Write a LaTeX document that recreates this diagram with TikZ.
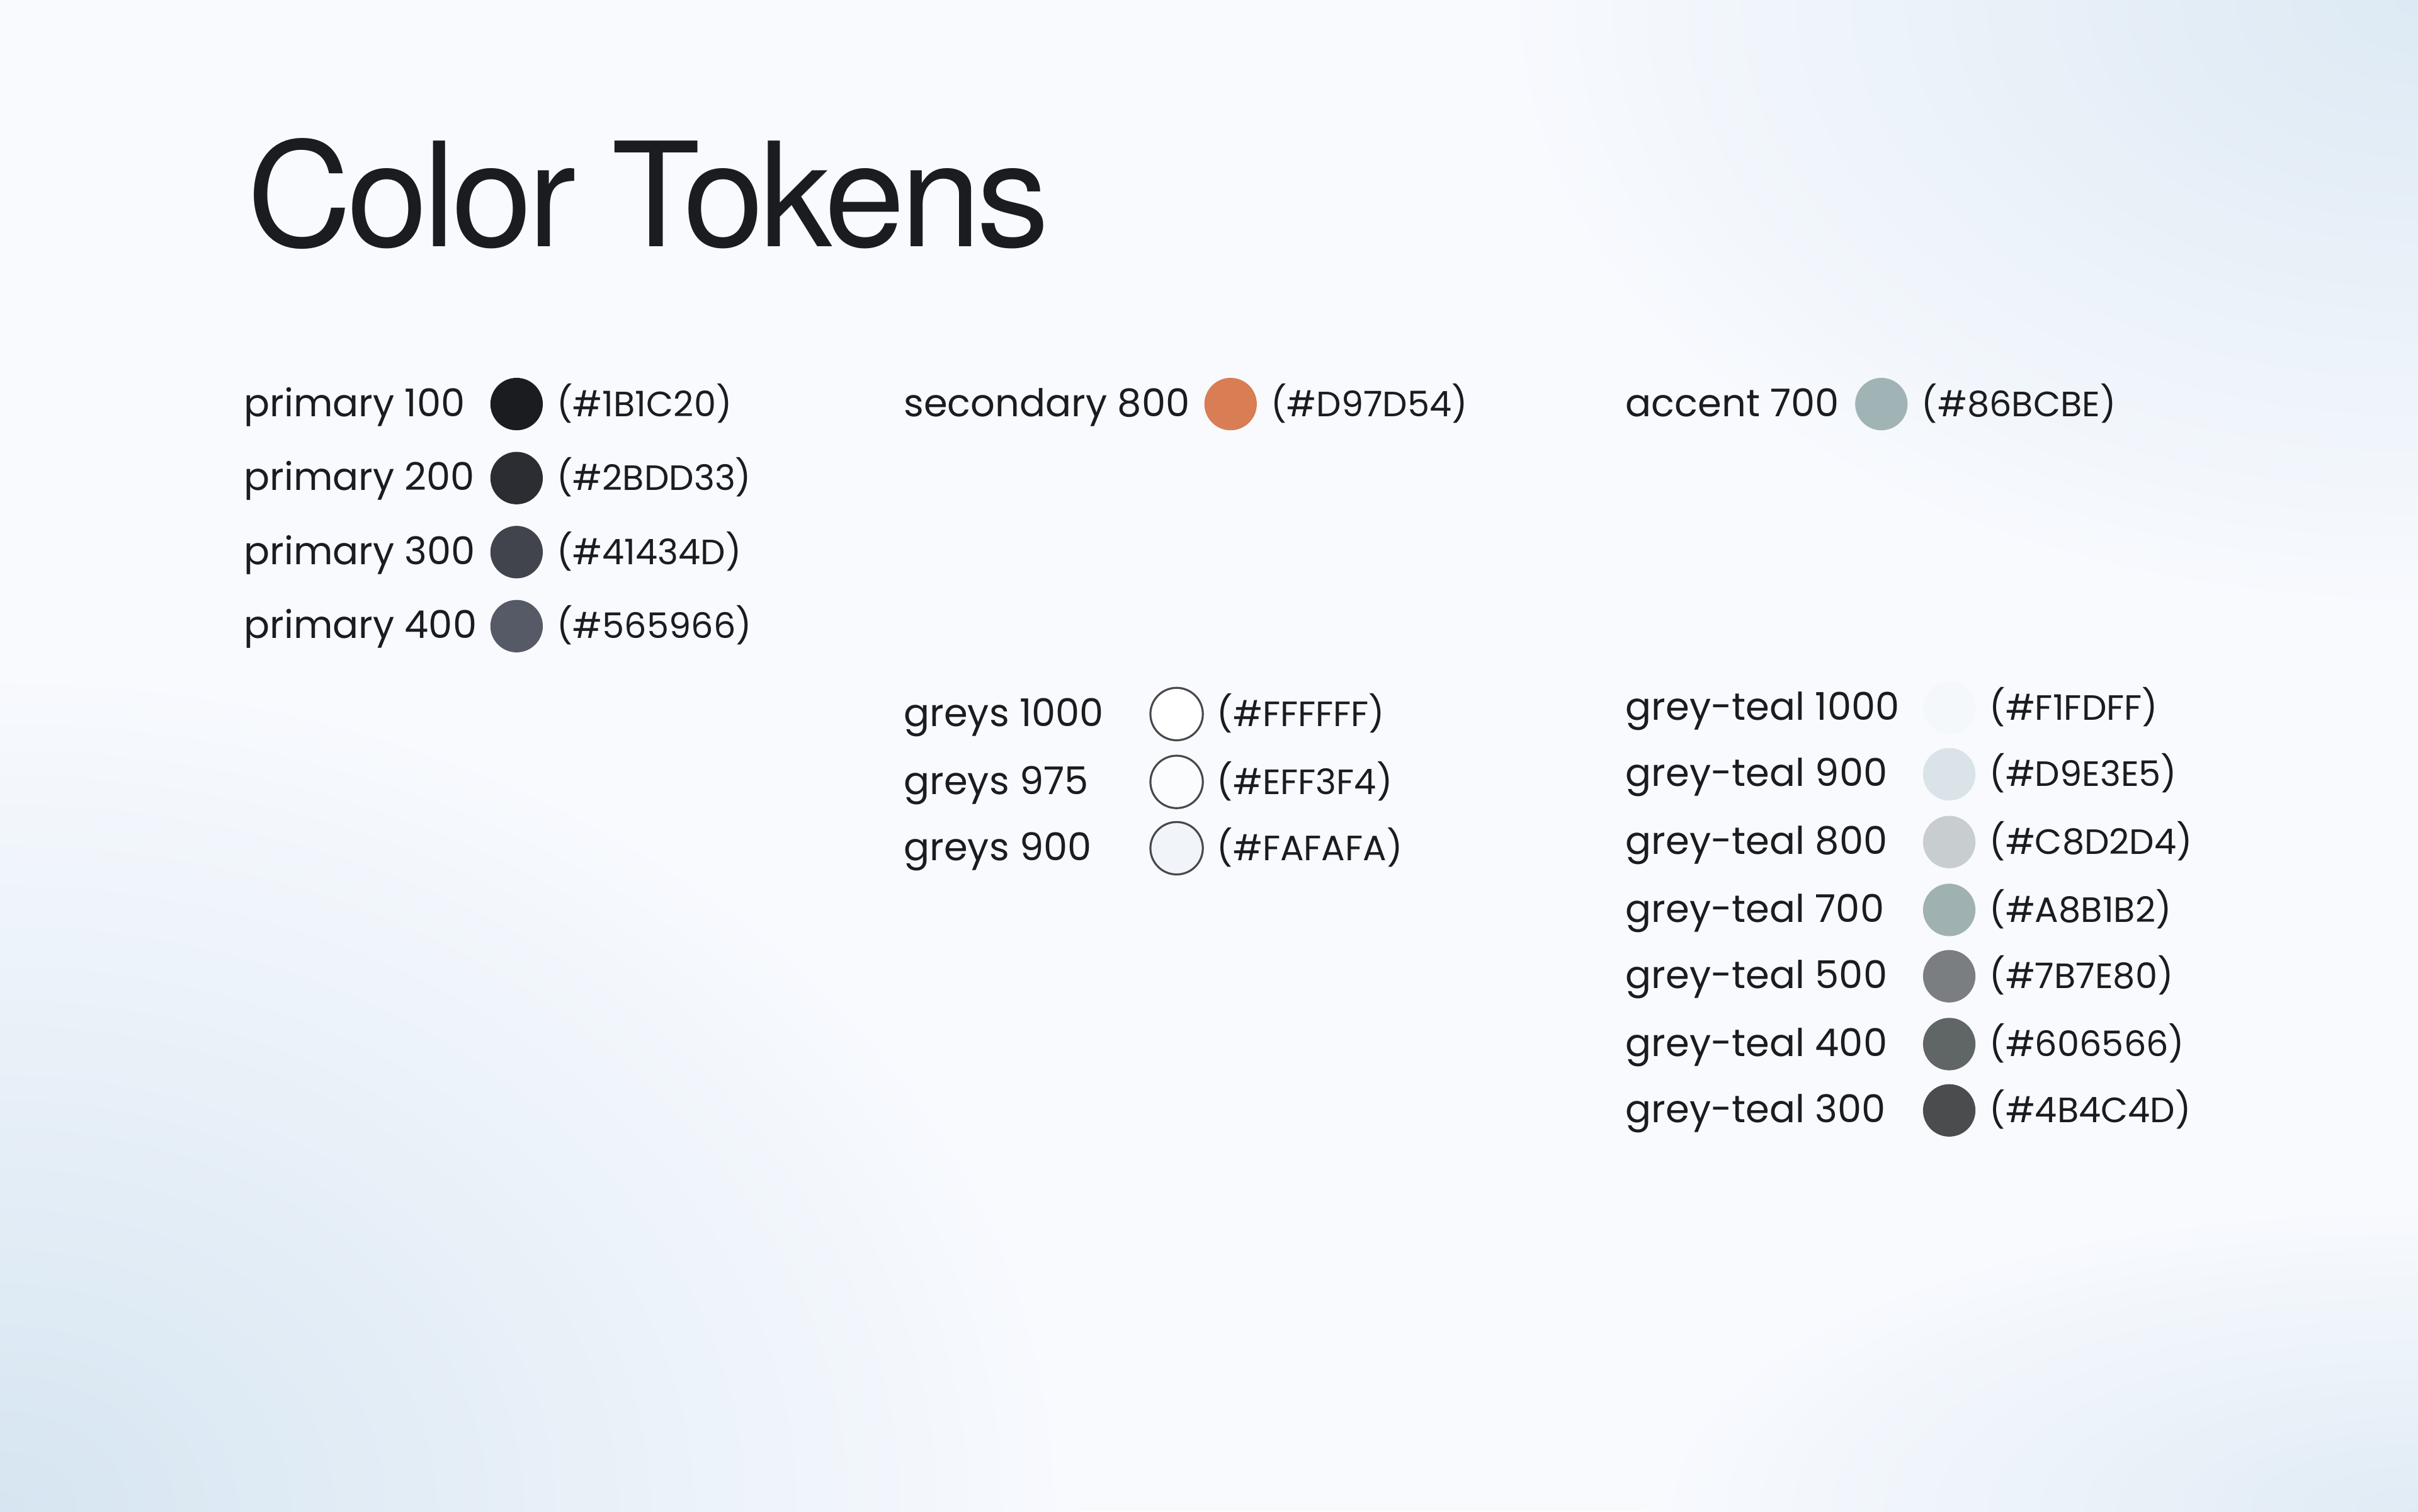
\documentclass[tikz,border=0pt]{standalone}
\usepackage{fontspec}
\setmainfont{Poppins}
\newfontfamily\titlefont[LetterSpace=-3]{TeX Gyre Heros}
\definecolor{ink}{HTML}{1B1C20}
\definecolor{bgA}{HTML}{D6E5F1}
\definecolor{bgB}{HTML}{F8FAFE}
\begin{document}
\begin{tikzpicture}[x=1pt,y=-1pt,
  lbl/.style={anchor=base west,inner sep=0,font=\fontsize{24.8}{26}\selectfont,text=ink},
  hex/.style={anchor=base west,inner sep=0,font=\fontsize{22.8}{26}\selectfont,text=ink},
  dot/.style={circle,minimum size=34pt,inner sep=0},
  ring/.style={dot,draw=ink!80,line width=1.3pt}]
\useasboundingbox (0,0) rectangle (1568,980);
\fill[bgB] (0,0) rectangle (1568,980);
\begin{scope}
\clip (0,0) rectangle (1568,980);
\shade[inner color=bgA,outer color=bgB] (0,980) ellipse (700 and 550);
\shade[inner color=bgA!80!bgB,outer color=bgB] (1568,0) ellipse (600 and 400);
\shade[inner color=bgA!70!bgB,outer color=bgB] (1568,980) ellipse (500 and 200);
\end{scope}
\node[anchor=base west,inner sep=0,font=\titlefont\fontsize{94}{100}\selectfont,text=ink] (title) at (160,160) {Color Tokens};
% primary
\foreach \n/\c/\h/\y in {p1/1B1C20/1B1C20/262,p2/2B2D33/2BDD33/310,p3/41434D/41434D/358,p4/565966/565966/406}{
  \definecolor{tmp}{HTML}{\c}
  \node[lbl] (\n l) at (158,\y+8) {primary \the\numexpr(\y-262)/48*100+100\relax};
  \node[dot,fill=tmp] (\n c) at (335,\y) {};
  \node[hex] (\n h) at (361,\y+8) {(\#\h)};
}
% secondary
\node[lbl] (sl) at (586,270) {secondary 800};
\node[dot,fill={rgb,255:red,217;green,125;blue,84}] (sc) at (798,262) {};
\node[hex] (sh) at (824,270) {(\#D97D54)};
% accent
\node[lbl] (al) at (1054,270) {accent 700};
\node[dot,fill={rgb,255:red,160;green,180;blue,182}] (ac) at (1220,262) {};
\node[hex] (ah) at (1246,270) {(\#86BCBE)};
% greys
\foreach \n/\t/\c/\h/\y in {g1/greys 1000/FFFFFF/FFFFFF/463,g2/greys 975/FAFCFD/EFF3F4/507,g3/greys 900/F1F5F9/FAFAFA/550}{
  \definecolor{tmp}{HTML}{\c}
  \node[lbl] (\n l) at (586,\y+8) {\t};
  \node[ring,fill=tmp] (\n c) at (763,\y) {};
  \node[hex] (\n h) at (789,\y+8) {(\#\h)};
}
% grey-teal
\foreach \n/\t/\c/\h/\y in {t1/1000/F5F8FB/F1FDFF/459,t2/900/D9E3E8/D9E3E5/502,t3/800/C8CDD0/C8D2D4/546,t4/700/A0B1B2/A8B1B2/590,t5/500/7B7E80/7B7E80/633,t6/400/606566/606566/677,t7/300/4B4C4D/4B4C4D/720}{
  \definecolor{tmp}{HTML}{\c}
  \node[lbl] (\n l) at (1054,\y+8) {grey-teal \t};
  \node[dot,fill=tmp] (\n c) at (1264,\y) {};
  \node[hex] (\n h) at (1290,\y+8) {(\#\h)};
}
\end{tikzpicture}
\end{document}
